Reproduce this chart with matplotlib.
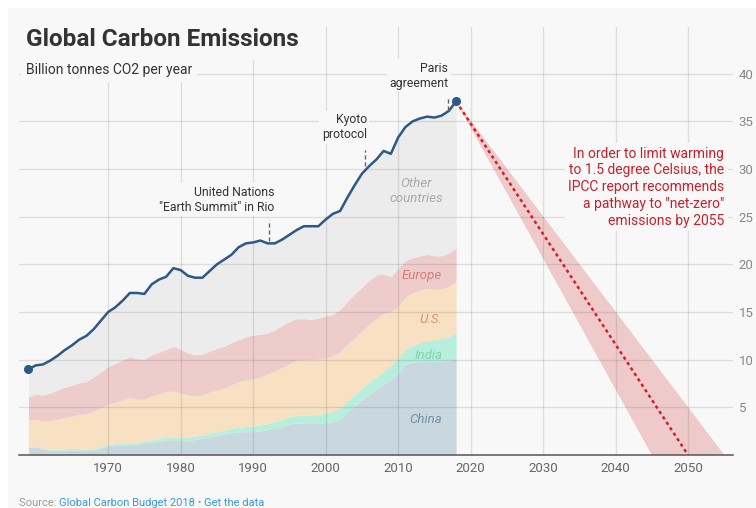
import matplotlib
matplotlib.use("Agg")
import matplotlib.pyplot as plt
from matplotlib.patches import Rectangle, Polygon
import numpy as np

plt.rcParams['font.family'] = ['Roboto', 'DejaVu Sans']

# data (billion tonnes CO2 per year)
years = list(range(1959, 2019))
china = [0.8, 0.85, 0.6, 0.5, 0.5, 0.5, 0.55, 0.5, 0.45, 0.5,
         0.7, 0.9, 1.0, 1.05, 1.1, 1.15, 1.3, 1.35, 1.45, 1.6,
         1.6, 1.5, 1.5, 1.65, 1.75, 1.9, 2.05, 2.2, 2.35, 2.4,
         2.45, 2.45, 2.55, 2.65, 2.8, 3.0, 3.25, 3.35, 3.35, 3.3,
         3.3, 3.4, 3.5, 3.8, 4.5, 5.1, 5.8, 6.4, 6.9, 7.4,
         7.9, 8.6, 9.5, 9.7, 9.85, 9.9, 9.85, 9.85, 9.95, 10.25]
india = [0.1, 0.1, 0.1, 0.1, 0.1, 0.15, 0.15, 0.15, 0.15, 0.15,
         0.15, 0.2, 0.2, 0.2, 0.2, 0.2, 0.25, 0.25, 0.25, 0.3,
         0.3, 0.3, 0.35, 0.35, 0.35, 0.4, 0.4, 0.4, 0.45, 0.5,
         0.55, 0.6, 0.6, 0.65, 0.7, 0.75, 0.75, 0.8, 0.85, 0.9,
         0.95, 1.05, 1.05, 1.1, 1.15, 1.2, 1.2, 1.3, 1.3, 1.4,
         1.5, 1.6, 1.6, 1.8, 1.95, 2.1, 2.25, 2.35, 2.45, 2.6]
us = [2.8, 2.75, 2.85, 3.0, 3.15, 3.25, 3.35, 3.6, 3.7, 3.95,
      4.1, 4.25, 4.35, 4.55, 4.7, 4.5, 4.3, 4.6, 4.7, 4.75,
      4.8, 4.7, 4.45, 4.2, 4.2, 4.3, 4.35, 4.4, 4.55, 4.8,
      4.85, 4.95, 5.05, 5.2, 5.3, 5.45, 5.55, 5.8, 5.8, 5.8,
      5.8, 5.7, 5.85, 5.9, 5.95, 6.0, 6.0, 6.0, 6.1, 6.1,
      5.6, 5.4, 5.5, 5.5, 5.5, 5.5, 5.3, 5.2, 5.3, 5.35]
europe = [2.4, 2.7, 2.75, 2.9, 3.05, 3.2, 3.25, 3.35, 3.4, 3.6,
          3.75, 3.95, 4.05, 4.2, 4.3, 4.25, 4.2, 4.3, 4.4, 4.45,
          4.7, 4.6, 4.4, 4.3, 4.3, 4.3, 4.4, 4.4, 4.45, 4.4,
          4.55, 4.6, 4.45, 4.3, 4.3, 4.4, 4.45, 4.35, 4.3, 4.25,
          4.3, 4.45, 4.35, 4.5, 4.5, 4.6, 4.6, 4.6, 4.6, 4.1,
          3.7, 4.0, 3.8, 3.7, 3.6, 3.55, 3.5, 3.5, 3.5, 3.5]
total = [9.0, 9.4, 9.5, 9.9, 10.4, 11.0, 11.5, 12.1, 12.5, 13.2,
         14.1, 15.0, 15.5, 16.2, 17.0, 17.0, 16.9, 17.9, 18.4, 18.7,
         19.6, 19.4, 18.8, 18.6, 18.6, 19.3, 20.0, 20.5, 21.0, 21.8,
         22.2, 22.3, 22.5, 22.2, 22.2, 22.6, 23.1, 23.6, 24.0, 24.0,
         24.0, 24.7, 25.3, 25.6, 27.0, 28.3, 29.5, 30.3, 31.0, 31.9,
         31.6, 33.3, 34.4, 35.0, 35.3, 35.5, 35.4, 35.6, 36.1, 37.1]

region_names = ['China', 'India', 'U.S.', 'Europe', 'Other\ncountries']
region_fill = ['#c9d8df', '#b8eedc', '#f8e0c3', '#efcccc', '#ececec']
region_text = ['#7592a8', '#7ed4b6', '#d39a6a', '#d27d7d', '#aaaaaa']
label_pos = [(2013.8, 3.7), (2014.2, 10.4), (2014.5, 14.2), (2013.3, 18.8), (2012.5, 27.7)]

# net-zero pathway: from 2018 level to zero by 2050 (range 2045-2055)
path_start = 2018
path_end = 2050
path_range = (2045, 2055)

events = ['United Nations\n"Earth Summit" in Rio', 'Kyoto\nprotocol', 'Paris\nagreement']
event_x = [1992.2, 2005.4, 2016.9]
event_line = [(22.5, 24.7), (30.3, 32.0), (36.2, 37.6)]
event_text_x = [1992.9, 2005.7, 2016.9]
event_text_y = [25.3, 32.9, 38.3]

bg = '#f8f8f8'

fig = plt.figure(figsize=(7.56, 5.08), dpi=100)
fig.patch.set_facecolor('white')
fig.patches.append(Rectangle((8 / 756, 0), 1, 1 - 8 / 508, transform=fig.transFigure,
                             facecolor=bg, edgecolor='none', zorder=-10))
ax = fig.add_axes([19 / 756, 53 / 508, 714 / 756, 428 / 508])
ax.set_facecolor('none')

yrs = np.array(years)
layers = np.vstack([china, india, us, europe])
tops = np.cumsum(layers, axis=0)
bottoms = np.vstack([np.zeros(len(years)), tops[:-1]])
for i in range(4):
    ax.fill_between(yrs, bottoms[i], tops[i], color=region_fill[i], lw=0, zorder=1)
ax.fill_between(yrs, tops[-1], total, color=region_fill[4], lw=0, zorder=1)

for name, c, (lx, ly) in zip(region_names, region_text, label_pos):
    ax.text(lx, ly, name, color=c, fontsize=9.5, style='italic', ha='center', va='center', zorder=4)

# pathway
ax.add_patch(Polygon([(path_start, total[-1]), (path_range[0], 0), (path_range[1], 0)],
                     closed=True, facecolor='#efcaca', edgecolor='none', zorder=1))
ax.plot([path_start, path_end], [total[-1], 0], color='#d0202a', lw=1.8,
        dashes=(1.3, 1.3), zorder=3)

ax.plot(yrs, total, color='#2d5986', lw=1.8, zorder=3, solid_joinstyle='round')
ax.plot([yrs[0], yrs[-1]], [total[0], total[-1]], 'o', color='#2d5986', ms=5.5, zorder=4)

# events
for lab, x, (y0, y1), tx, ty in zip(events, event_x, event_line, event_text_x, event_text_y):
    ax.plot([x, x], [y0, y1], color='#666666', lw=1, ls=(0, (3, 2)), zorder=3)
    ax.text(tx, ty, lab, ha='right', va='bottom', fontsize=8.8, color='#333333',
            linespacing=1.2, zorder=5,
            bbox=dict(boxstyle='square,pad=0.2', fc=bg, ec='none'))

ax.text(2055, 28.1, 'In order to limit warming\nto 1.5 degree Celsius, the\nIPCC report recommends\n'
        'a pathway to "net-zero"\nemissions by 2055', ha='right', va='center', fontsize=10,
        color='#c8202a', linespacing=1.25, zorder=5,
        bbox=dict(boxstyle='square,pad=0.25', fc=bg, ec='none'))

ax.set_xlim(1957.7, 2056.2)
ax.set_ylim(0, 44.9)
ax.set_xticks(range(1970, 2051, 10))
ax.set_yticks(range(5, 41, 5))
ax.yaxis.tick_right()
ax.tick_params(axis='both', length=0, labelsize=9.5)
ax.tick_params(axis='x', pad=5, labelcolor='#666666')
ax.tick_params(axis='y', pad=4, labelcolor='#888888')
ax.set_axisbelow(False)
ax.grid(True, color='#000000', alpha=0.1, lw=1, zorder=2)
for s in ['top', 'right', 'left']:
    ax.spines[s].set_visible(False)
ax.spines['bottom'].set_color('#555555')
ax.spines['bottom'].set_linewidth(1.1)
ax.spines['bottom'].set_zorder(4)

fig.text(26 / 756, 1 - 46 / 508, 'Global Carbon Emissions', fontsize=17.5, fontweight='bold',
         color='#333333', va='baseline', zorder=6,
         bbox=dict(boxstyle='square,pad=0.35', fc=bg, ec='none'))
fig.text(26 / 756, 1 - 70 / 508, 'Billion tonnes CO2 per year', fontsize=10, color='#333333',
         va='center', zorder=6, bbox=dict(boxstyle='square,pad=0.35', fc=bg, ec='none'))

# source line
fig.canvas.draw()
r = fig.canvas.get_renderer()
x = 19
for part, col in [('Source: ', '#999999'), ('Global Carbon Budget 2018', '#3a9ad9'),
                  (' • ', '#999999'), ('Get the data', '#3a9ad9')]:
    t = fig.text(x / 756, 5 / 508, part, fontsize=8, color=col, va='center')
    x += t.get_window_extent(r).width

fig.savefig('out.png', dpi=100, facecolor=fig.get_facecolor())
